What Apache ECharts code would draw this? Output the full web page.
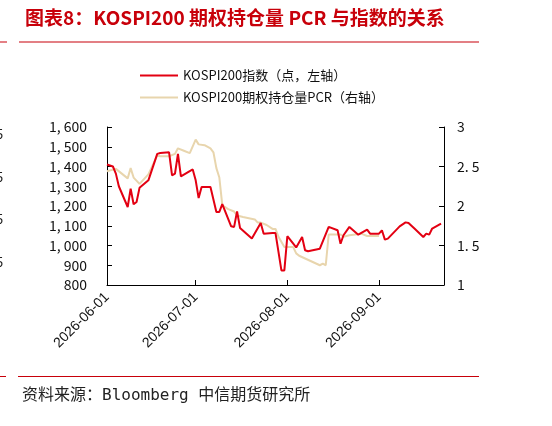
<!DOCTYPE html>
<html>
<head>
<meta charset="utf-8">
<script src="https://cdn.jsdelivr.net/npm/echarts@6/dist/echarts.min.js"></script>
<style>
    html, body { margin: 0; padding: 0; background: #fff; }
    #chart { width: 552px; height: 426px; }
</style>
</head>
<body>
<div id="chart"></div>
<script>
// KOSPI200 index (left axis)
const kospiDates = [
    "2026-06-01", "2026-06-03", "2026-06-04", "2026-06-05", "2026-06-08", "2026-06-09", "2026-06-10",
    "2026-06-11", "2026-06-12", "2026-06-15", "2026-06-18", "2026-06-19", "2026-06-22", "2026-06-23",
    "2026-06-24", "2026-06-25", "2026-06-26", "2026-06-30", "2026-07-01", "2026-07-02", "2026-07-03",
    "2026-07-06", "2026-07-08", "2026-07-09", "2026-07-10", "2026-07-13", "2026-07-14", "2026-07-15",
    "2026-07-16", "2026-07-20", "2026-07-23", "2026-07-24", "2026-07-27", "2026-07-28", "2026-07-30",
    "2026-07-31", "2026-08-01", "2026-08-04", "2026-08-06", "2026-08-07", "2026-08-08", "2026-08-12",
    "2026-08-15", "2026-08-18", "2026-08-19", "2026-08-20", "2026-08-22", "2026-08-25", "2026-08-28",
    "2026-08-29", "2026-09-01", "2026-09-02", "2026-09-03", "2026-09-04", "2026-09-08", "2026-09-10",
    "2026-09-11", "2026-09-13", "2026-09-16", "2026-09-17", "2026-09-18", "2026-09-19", "2026-09-22"
];
const kospiValues = [
    1410, 1400, 1364, 1300, 1195, 1288, 1209,
    1220, 1292, 1330, 1464, 1468, 1472, 1355,
    1364, 1464, 1350, 1385, 1330, 1240, 1296,
    1296, 1170, 1170, 1209, 1097, 1094, 1173,
    1089, 1035, 1114, 1060, 1063, 1063, 874,
    874, 1047, 990, 1043, 976, 971, 984,
    1094, 1077, 1009, 1052, 1094, 1055, 1080,
    1060, 1060, 1077, 1030, 1035, 1097, 1117,
    1114, 1086, 1043, 1060, 1055, 1086, 1111
];

// KOSPI200 option open interest PCR (right axis)
const pcrDates = [
    "2026-06-01", "2026-06-04", "2026-06-08", "2026-06-09", "2026-06-10", "2026-06-12", "2026-06-15",
    "2026-06-18", "2026-06-19", "2026-06-22", "2026-06-24", "2026-06-25", "2026-06-27", "2026-06-29",
    "2026-07-01", "2026-07-02", "2026-07-04", "2026-07-06", "2026-07-07", "2026-07-08", "2026-07-09",
    "2026-07-10", "2026-07-12", "2026-07-14", "2026-07-15", "2026-07-17", "2026-07-21", "2026-07-22",
    "2026-07-23", "2026-07-25", "2026-07-27", "2026-07-28", "2026-07-29", "2026-07-31", "2026-08-03",
    "2026-08-04", "2026-08-05", "2026-08-12", "2026-08-13", "2026-08-14", "2026-08-15", "2026-08-19",
    "2026-08-20", "2026-08-22", "2026-08-26", "2026-08-28", "2026-09-01"
];
const pcrValues = [
    2.44, 2.47, 2.35, 2.48, 2.36, 2.28, 2.40,
    2.64, 2.63, 2.63, 2.66, 2.73, 2.70, 2.67,
    2.84, 2.78, 2.77, 2.73, 2.68, 2.48, 2.36,
    2.01, 1.96, 1.93, 1.88, 1.86, 1.83, 1.79,
    1.79, 1.76, 1.71, 1.71, 1.61, 1.48, 1.48,
    1.40, 1.37, 1.25, 1.27, 1.25, 1.64, 1.64,
    1.61, 1.63, 1.65, 1.62, 1.62
];

const axisStart = "2026-06-01";
const axisEnd = "2026-09-23";
const monthTicks = ["2026-06-01", "2026-07-01", "2026-08-01", "2026-09-01"];

const seriesNames = ["KOSPI200指数（点，左轴）", "KOSPI200期权持仓量PCR（右轴）"];
const leftTicks = { min: 800, max: 1600, interval: 100 };
const rightTicks = { min: 1, max: 3, interval: 0.5 };

const toTime = (s) => Date.parse(s + "T00:00:00Z");
const fmtDate = (t) => new Date(t).toISOString().slice(0, 10);
const pair = (dates, values) => dates.map((d, i) => [toTime(d), values[i]]);

const font = "'Noto Sans CJK SC', 'Noto Sans', sans-serif";
const red = "#e30012";
const beige = "#e8d5ad";
const titleRed = "#c8000a";

const chart = echarts.init(document.getElementById("chart"));
chart.setOption({
    animation: false,
    backgroundColor: "#fff",
    textStyle: { fontFamily: font },
    grid: { left: 107, right: 108, top: 127, bottom: 141 },
    legend: {
        orient: "vertical",
        left: 135,
        top: 64,
        itemGap: 9,
        itemWidth: 38,
        itemHeight: 2,
        icon: "rect",
        textStyle: { fontSize: 13, color: "#111", fontFamily: font },
        data: seriesNames,
    },
    xAxis: {
        type: "value",
        min: toTime(axisStart),
        max: toTime(axisEnd),
        axisLine: { lineStyle: { color: "#000", width: 1 } },
        axisTick: { inside: true, length: 5, lineStyle: { color: "#000" }, customValues: monthTicks.map(toTime) },
        axisLabel: {
            rotate: 45,
            margin: 10,
            fontSize: 14,
            color: "#111",
            fontFamily: "'Liberation Sans', Arial, sans-serif",
            customValues: monthTicks.map(toTime),
            formatter: (v) => fmtDate(v),
        },
        splitLine: { show: false },
    },
    yAxis: [
        {
            type: "value",
            ...leftTicks,
            axisLine: { show: true, lineStyle: { color: "#000" } },
            axisTick: { show: true, inside: true, length: 5, lineStyle: { color: "#000" } },
            axisLabel: {
                margin: 20,
                fontSize: 14,
                color: "#111",
                formatter: (v) => (v >= 1000 ? Math.floor(v / 1000) + ", " + String(v % 1000).padStart(3, "0") : String(v)),
            },
            splitLine: { show: false },
        },
        {
            type: "value",
            ...rightTicks,
            axisLine: { show: true, lineStyle: { color: "#000" } },
            axisTick: { show: true, inside: true, length: 5, lineStyle: { color: "#000" } },
            axisLabel: {
                margin: 13,
                fontSize: 14,
                color: "#111",
                formatter: (v) => String(v).replace(".", ". "),
            },
            splitLine: { show: false },
        },
    ],
    series: [
        {
            name: seriesNames[0],
            type: "line",
            yAxisIndex: 0,
            symbol: "none",
            z: 3,
            lineStyle: { color: red, width: 2 },
            itemStyle: { color: red },
            data: pair(kospiDates, kospiValues),
        },
        {
            name: seriesNames[1],
            type: "line",
            yAxisIndex: 1,
            symbol: "none",
            z: 2,
            lineStyle: { color: beige, width: 2 },
            itemStyle: { color: beige },
            data: pair(pcrDates, pcrValues),
        },
    ],
    graphic: [
        {
            type: "text",
            left: 25,
            top: 8,
            style: { text: "图表8：KOSPI200 期权持仓量 PCR 与指数的关系", fill: titleRed, font: "bold 19px " + font },
        },
        { type: "rect", shape: { x: 0, y: 41.5, width: 7, height: 1 }, style: { fill: titleRed } },
        { type: "rect", shape: { x: 19, y: 41.5, width: 460, height: 1 }, style: { fill: titleRed } },
        { type: "rect", shape: { x: 0, y: 376, width: 6, height: 1 }, style: { fill: titleRed } },
        { type: "rect", shape: { x: 18, y: 376, width: 461, height: 1 }, style: { fill: titleRed } },
        {
            type: "text",
            left: 22,
            top: 388,
            style: { text: "资料来源：Bloomberg 中信期货研究所", fill: "#222", font: "16px 'DejaVu Sans Mono', 'Noto Sans CJK SC', monospace" },
        },
        // cut-off tick labels of the neighbouring chart at the left edge
        { type: "text", x: -4, y: 128, style: { text: "5", fill: "#222", font: "13px " + font } },
        { type: "text", x: -4, y: 171, style: { text: "5", fill: "#222", font: "13px " + font } },
        { type: "text", x: -4, y: 213, style: { text: "5", fill: "#222", font: "13px " + font } },
        { type: "text", x: -4, y: 256, style: { text: "5", fill: "#222", font: "13px " + font } },
    ],
});
</script>
</body>
</html>
